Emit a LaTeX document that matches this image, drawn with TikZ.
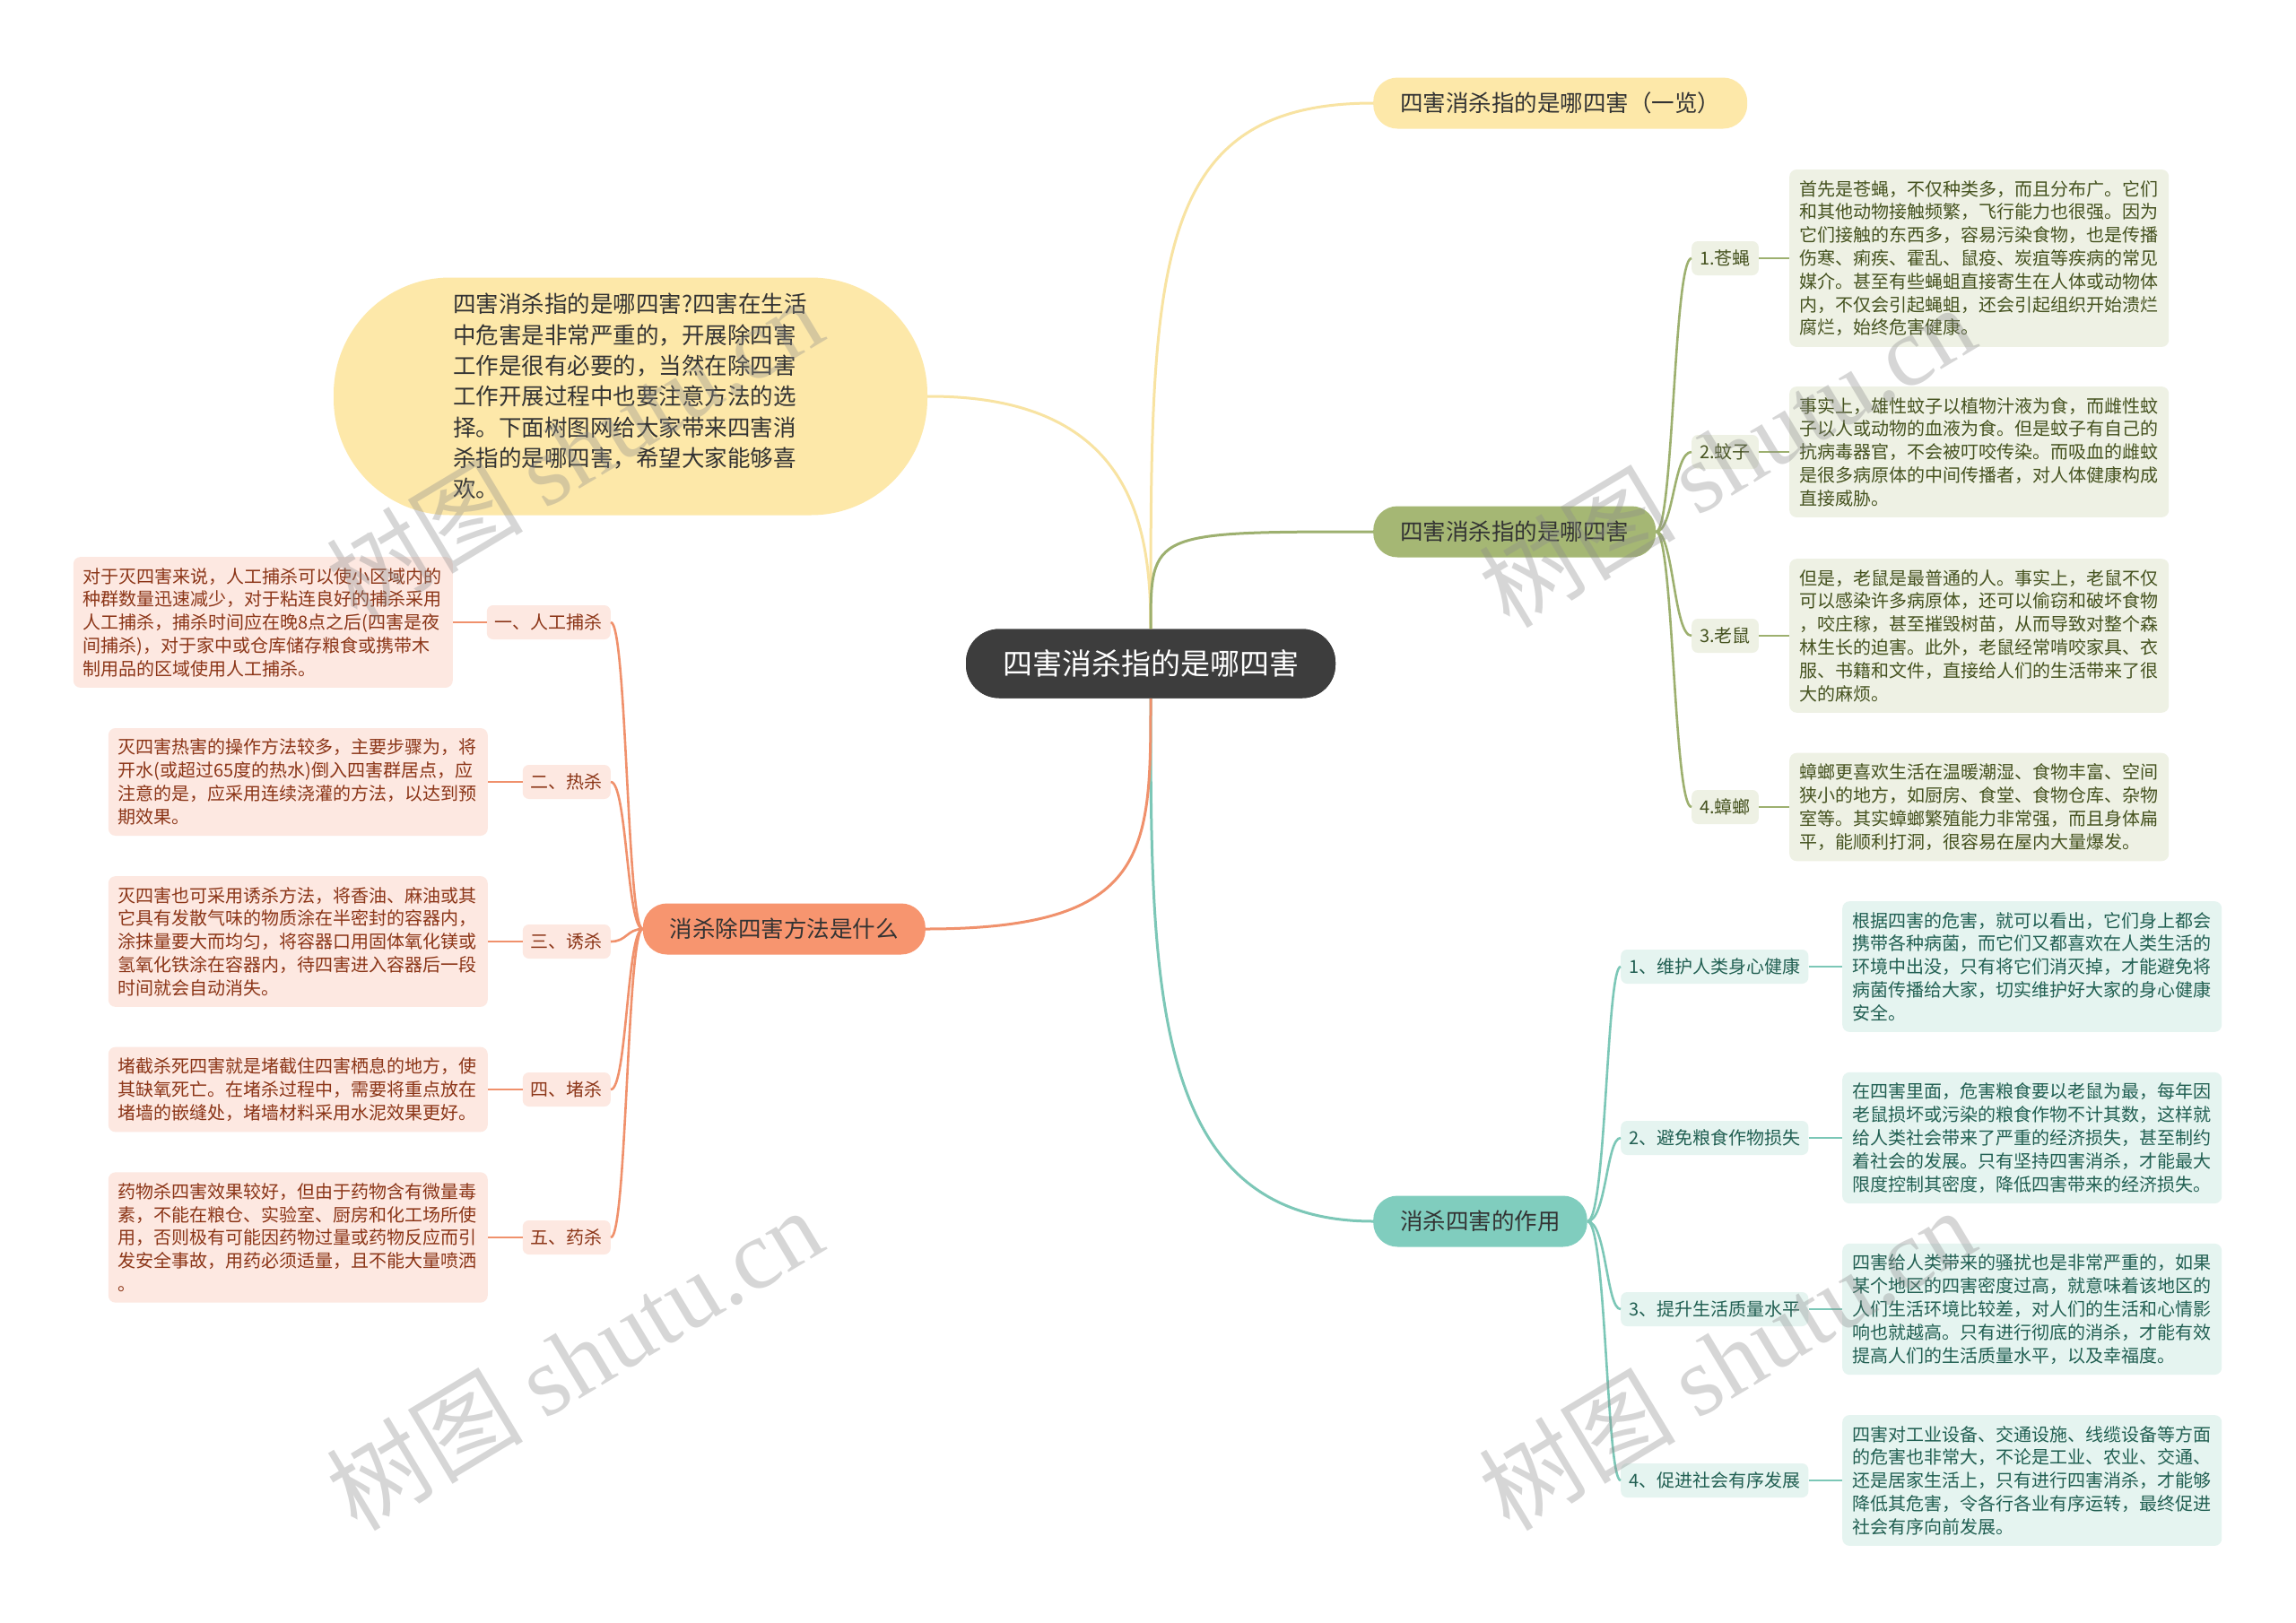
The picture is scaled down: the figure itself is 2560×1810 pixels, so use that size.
\documentclass[tikz,border=0pt]{standalone}
\usepackage{fontspec}
\setmainfont{Noto Sans CJK SC}
\newfontfamily\wmlatin{Liberation Serif}
\definecolor{cdark}{HTML}{3D3D3D}
\definecolor{cyel}{HTML}{FDE8A9}
\definecolor{cyelline}{HTML}{F8E3A2}
\definecolor{cgreen}{HTML}{A5B774}
\definecolor{cgreenline}{HTML}{9DB06F}
\definecolor{cgreenlt}{HTML}{EEF1E4}
\definecolor{cgreentxt}{HTML}{45521F}
\definecolor{cteal}{HTML}{80CDBE}
\definecolor{ctealline}{HTML}{7CC7B7}
\definecolor{cteallt}{HTML}{E5F4F0}
\definecolor{ctealtxt}{HTML}{215F52}
\definecolor{corange}{HTML}{F7956F}
\definecolor{corangeline}{HTML}{F0916C}
\definecolor{corangelt}{HTML}{FDE8E1}
\definecolor{corangetxt}{HTML}{8B3517}
\definecolor{ctxt}{HTML}{333333}
\newcommand\fdet{\fontsize{20pt}{25.8pt}\selectfont}
\newcommand\fsubt{\fontsize{20pt}{24pt}\selectfont}
\newcommand\fmain{\fontsize{25.5pt}{30pt}\selectfont}
\newcommand\fintro{\fontsize{25.5pt}{34.3pt}\selectfont}
\newcommand\fcenter{\fontsize{33pt}{38pt}\selectfont}
\newcommand\fwm{\fontsize{110pt}{120pt}\selectfont}
\tikzset{
  detail/.style={text width=401pt, align=left, inner xsep=11pt, inner ysep=12pt, rounded corners=8pt, font=\fdet},
  gdet/.style={detail, anchor=west, fill=cgreenlt, text=cgreentxt},
  tdet/.style={detail, anchor=west, fill=cteallt, text=ctealtxt},
  odet/.style={detail, anchor=east, fill=corangelt, text=corangetxt},
  subbox/.style={inner xsep=9pt, inner ysep=0pt, minimum height=38pt, rounded corners=7pt, font=\fsubt},
  gsub/.style={subbox, anchor=west, fill=cgreenlt, text=cgreentxt},
  tsub/.style={subbox, anchor=west, fill=cteallt, text=ctealtxt},
  osub/.style={subbox, anchor=east, fill=corangelt, text=corangetxt},
  mainbox/.style={inner xsep=30pt, inner ysep=0pt, minimum height=57pt, rounded corners=27pt, font=\fmain, text=ctxt},
  centerbox/.style={fill=cdark, text=white, font=\fcenter, inner xsep=41pt, inner ysep=0pt, minimum height=77pt, rounded corners=37pt},
  gline/.style={draw=cgreenline, line width=2.6pt},
  tline/.style={draw=ctealline, line width=2.6pt},
  oline/.style={draw=corangeline, line width=2.6pt},
  yline/.style={draw=cyelline, line width=3pt},
  wm/.style={rotate=31, text=black!45, opacity=0.35, font=\fwm}
}
\begin{document}
\begin{tikzpicture}[x=1pt,y=-1pt]
\useasboundingbox (0,0) rectangle (2560,1810);
\fill[white] (0,0) rectangle (2560,1810);

% central and main branches
\node[centerbox] (c) at (1283,740) {四害消杀指的是哪四害};
\node[mainbox, fill=cyel, anchor=west] (top) at (1531,115) {四害消杀指的是哪四害（一览）};
\node[fill=cyel, text=ctxt, font=\fintro, text width=396pt, align=left, minimum width=662pt, minimum height=265pt, rounded corners=130pt] (intro) at (703,442) {四害消杀指的是哪四害?四害在生活\\中危害是非常严重的，开展除四害\\工作是很有必要的，当然在除四害\\工作开展过程中也要注意方法的选\\择。下面树图网给大家带来四害消\\杀指的是哪四害，希望大家能够喜\\欢。};
\node[mainbox, fill=cgreen, anchor=west] (gm) at (1531,593) {四害消杀指的是哪四害};
\node[mainbox, fill=cteal, anchor=west] (tm) at (1531,1362) {消杀四害的作用};
\node[mainbox, fill=corange, anchor=east] (om) at (1032,1036) {消杀除四害方法是什么};

% main connectors
\draw[yline] (c.north) .. controls (1283,300) and (1283,115) .. (top.west);
\draw[yline] (c.north) .. controls (1283,590) and (1265,441) .. (intro.east);
\draw[gline, line width=3pt] (c.north) .. controls (1283,593) .. (gm.west);
\draw[tline, line width=3pt] (c.south) .. controls (1283,1100) and (1283,1362) .. (tm.west);
\draw[oline, line width=3pt] (c.south) .. controls (1283,950) and (1283,1036) .. (om.east);
% central node again, on top of the connector ends
\node[centerbox] (c2) at (c) {四害消杀指的是哪四害};

% green sub-branch
\node[gsub] (gs1) at (1886,288) {1.苍蝇};
\node[gsub] (gs2) at (1886,504) {2.蚊子};
\node[gsub] (gs3) at (1886,709) {3.老鼠};
\node[gsub] (gs4) at (1886,900) {4.蟑螂};
\node[gdet] (gd1) at (1995,288) {首先是苍蝇，不仅种类多，而且分布广。它们\\和其他动物接触频繁，飞行能力也很强。因为\\它们接触的东西多，容易污染食物，也是传播\\伤寒、痢疾、霍乱、鼠疫、炭疽等疾病的常见\\媒介。甚至有些蝇蛆直接寄生在人体或动物体\\内，不仅会引起蝇蛆，还会引起组织开始溃烂\\腐烂，始终危害健康。};
\node[gdet] (gd2) at (1995,504) {事实上，雄性蚊子以植物汁液为食，而雌性蚊\\子以人或动物的血液为食。但是蚊子有自己的\\抗病毒器官，不会被叮咬传染。而吸血的雌蚊\\是很多病原体的中间传播者，对人体健康构成\\直接威胁。};
\node[gdet] (gd3) at (1995,709) {但是，老鼠是最普通的人。事实上，老鼠不仅\\可以感染许多病原体，还可以偷窃和破坏食物\\，咬庄稼，甚至摧毁树苗，从而导致对整个森\\林生长的迫害。此外，老鼠经常啃咬家具、衣\\服、书籍和文件，直接给人们的生活带来了很\\大的麻烦。};
\node[gdet] (gd4) at (1995,900) {蟑螂更喜欢生活在温暖潮湿、食物丰富、空间\\狭小的地方，如厨房、食堂、食物仓库、杂物\\室等。其实蟑螂繁殖能力非常强，而且身体扁\\平，能顺利打洞，很容易在屋内大量爆发。};
\foreach \i in {1,...,4}{
  \draw[gline] (gm.east) .. controls (1866,593) and (1866,0|-gs\i.west) .. (gs\i.west);
  \draw[gline] (gs\i.east) -- (gd\i.west);
}

% teal sub-branch
\node[tsub] (ts1) at (1807,1078) {1、维护人类身心健康};
\node[tsub] (ts2) at (1807,1269) {2、避免粮食作物损失};
\node[tsub] (ts3) at (1807,1460) {3、提升生活质量水平};
\node[tsub] (ts4) at (1807,1651) {4、促进社会有序发展};
\node[tdet] (td1) at (2054,1078) {根据四害的危害，就可以看出，它们身上都会\\携带各种病菌，而它们又都喜欢在人类生活的\\环境中出没，只有将它们消灭掉，才能避免将\\病菌传播给大家，切实维护好大家的身心健康\\安全。};
\node[tdet] (td2) at (2054,1269) {在四害里面，危害粮食要以老鼠为最，每年因\\老鼠损坏或污染的粮食作物不计其数，这样就\\给人类社会带来了严重的经济损失，甚至制约\\着社会的发展。只有坚持四害消杀，才能最大\\限度控制其密度，降低四害带来的经济损失。};
\node[tdet] (td3) at (2054,1460) {四害给人类带来的骚扰也是非常严重的，如果\\某个地区的四害密度过高，就意味着该地区的\\人们生活环境比较差，对人们的生活和心情影\\响也就越高。只有进行彻底的消杀，才能有效\\提高人们的生活质量水平，以及幸福度。};
\node[tdet] (td4) at (2054,1651) {四害对工业设备、交通设施、线缆设备等方面\\的危害也非常大，不论是工业、农业、交通、\\还是居家生活上，只有进行四害消杀，才能够\\降低其危害，令各行各业有序运转，最终促进\\社会有序向前发展。};
\foreach \i in {1,...,4}{
  \draw[tline] (tm.east) .. controls (1791,1362) and (1791,0|-ts\i.west) .. (ts\i.west);
  \draw[tline] (ts\i.east) -- (td\i.west);
}

% orange sub-branch
\node[osub] (os1) at (681,694) {一、人工捕杀};
\node[osub] (os2) at (681,872) {二、热杀};
\node[osub] (os3) at (681,1050) {三、诱杀};
\node[osub] (os4) at (681,1215) {四、堵杀};
\node[osub] (os5) at (681,1380) {五、药杀};
\node[odet] (od1) at (505,694) {对于灭四害来说，人工捕杀可以使小区域内的\\种群数量迅速减少，对于粘连良好的捕杀采用\\人工捕杀，捕杀时间应在晚8点之后(四害是夜\\间捕杀)，对于家中或仓库储存粮食或携带木\\制用品的区域使用人工捕杀。};
\node[odet] (od2) at (544,872) {灭四害热害的操作方法较多，主要步骤为，将\\开水(或超过65度的热水)倒入四害群居点，应\\注意的是，应采用连续浇灌的方法，以达到预\\期效果。};
\node[odet] (od3) at (544,1050) {灭四害也可采用诱杀方法，将香油、麻油或其\\它具有发散气味的物质涂在半密封的容器内，\\涂抹量要大而均匀，将容器口用固体氧化镁或\\氢氧化铁涂在容器内，待四害进入容器后一段\\时间就会自动消失。};
\node[odet] (od4) at (544,1215) {堵截杀死四害就是堵截住四害栖息的地方，使\\其缺氧死亡。在堵杀过程中，需要将重点放在\\堵墙的嵌缝处，堵墙材料采用水泥效果更好。};
\node[odet] (od5) at (544,1380) {药物杀四害效果较好，但由于药物含有微量毒\\素，不能在粮仓、实验室、厨房和化工场所使\\用，否则极有可能因药物过量或药物反应而引\\发安全事故，用药必须适量，且不能大量喷洒\\。};
\foreach \i in {1,...,5}{
  \draw[oline] (om.west) .. controls (699,1036) and (699,0|-os\i.east) .. (os\i.east);
  \draw[oline] (os\i.west) -- (od\i.east);
}

% watermarks
\node[wm] (wm1) at (640,500) {树图 {\wmlatin shutu.cn}};
\node[wm] (wm2) at (1925,508) {树图 {\wmlatin shutu.cn}};
\node[wm] (wm3) at (640,1515) {树图 {\wmlatin shutu.cn}};
\node[wm] (wm4) at (1925,1515) {树图 {\wmlatin shutu.cn}};
\end{tikzpicture}
\end{document}
